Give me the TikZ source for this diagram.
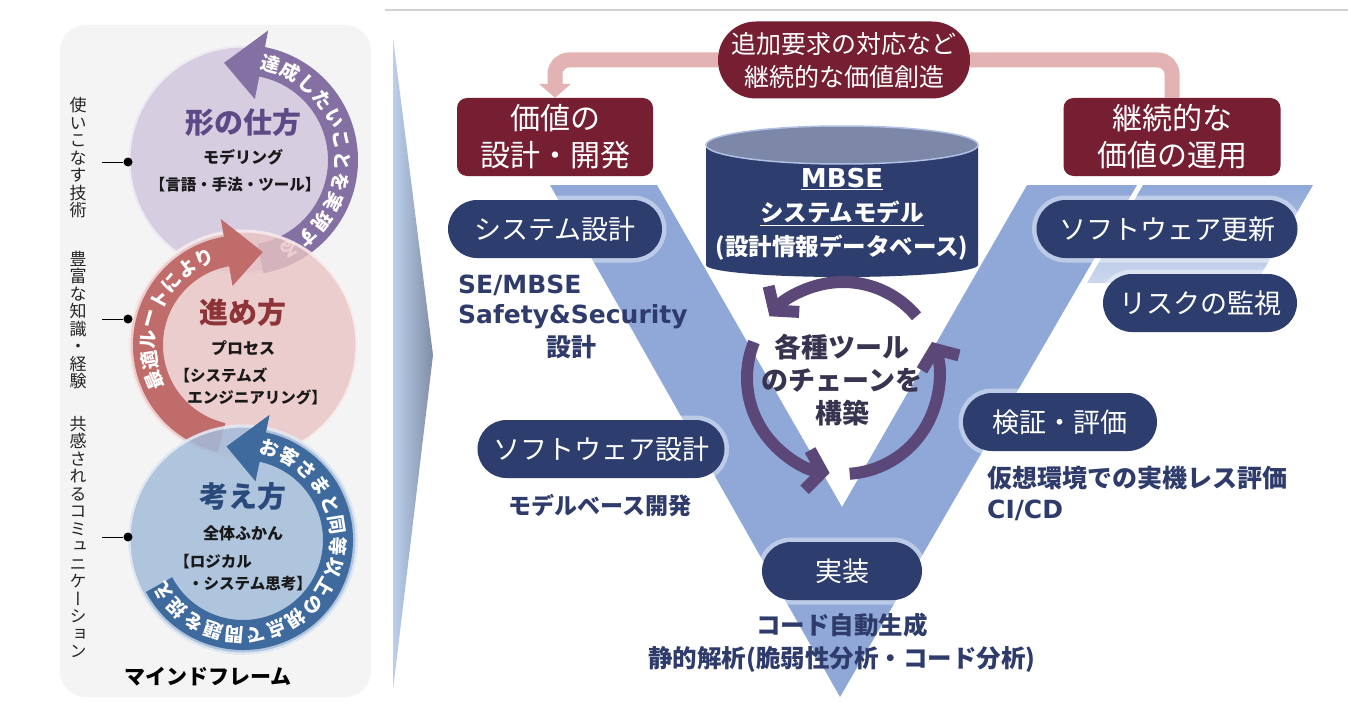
\documentclass[tikz,border=0pt]{standalone}
\usepackage{fontspec}
\setmainfont{Noto Sans CJK JP}
\newfontfamily\dvs{DejaVu Sans}
\newfontfamily\jpv[RawFeature=+vert]{Noto Sans CJK JP}
\usetikzlibrary{calc,arrows.meta}
\newcommand\fsz[2]{\fontsize{#1pt}{#2pt}\selectfont}
\lineskiplimit=-20pt
\definecolor{navy}{HTML}{2D3E6E}
\definecolor{maroon}{HTML}{761F33}
\definecolor{vblue}{HTML}{8FA8D8}
\definecolor{vlight}{HTML}{AFC0E4}
\definecolor{pinkarr}{HTML}{E3B3B3}
\definecolor{cylTop}{HTML}{7D87A7}
\definecolor{arrP}{HTML}{5B4878}
\definecolor{txtNavy}{HTML}{2F3C6B}
\definecolor{ctrTxt}{HTML}{37344F}
\definecolor{panel}{HTML}{F4F4F4}
\definecolor{chevL}{HTML}{BCD0EC}
\definecolor{chevR}{HTML}{7F8EA6}
\definecolor{c1fill}{HTML}{D6CDE1}
\definecolor{c1band}{HTML}{8470A3}
\definecolor{c1title}{HTML}{5C4A86}
\definecolor{c2fill}{HTML}{EAC4C4}
\definecolor{c2band}{HTML}{C06C6A}
\definecolor{c2title}{HTML}{8C3437}
\definecolor{c3fill}{HTML}{A4BCDA}
\definecolor{c3band}{HTML}{3F6A9E}
\definecolor{c3title}{HTML}{2A4A7C}
\begin{document}
\begin{tikzpicture}[x=1pt,y=1pt,yscale=-1,
  navybox/.style={fill=navy, text=white, rounded corners=29pt, minimum height=58pt, inner sep=0pt,
    font=\fsz{27}{32}, preaction={draw=white, line width=9pt, opacity=0.4}},
  maroonbox/.style={fill=maroon, text=white, rounded corners=10pt, minimum height=78pt, inner sep=0pt,
    align=center, font=\fsz{30}{37}},
  lbl/.style={text=txtNavy, font=\bfseries\fsz{25}{32}, inner sep=0pt},
  ringtxt/.style={text=white, font=\bfseries\fsz{19}{19}, inner sep=0pt},
  vtxt/.style={font=\jpv\fsz{17}{17.5}, align=center, inner sep=0pt, text=black!85},
  dotnode/.style={circle, fill=black, inner sep=0pt, minimum size=9pt},
  ctitle/.style={font=\bfseries\fsz{29}{30}, inner sep=0pt},
  csub/.style={font=\bfseries\fsz{16}{18}, inner sep=0pt, text=black!90},
  cyc/.style={arrP, line width=12pt, -{Straight Barb[length=15pt,width=40pt]}}
]
\useasboundingbox (0,0) rectangle (1348,706);
\fill[white] (0,0) rectangle (1348,706);

% top rule
\draw[black!18, line width=1.5pt] (385,10) -- (1348,10);

% left panel
\fill[panel, rounded corners=26pt] (60,25) rectangle (371,697);

% chevron
\shade[left color=chevL, right color=chevR] (393,38) -- (433,355) -- (393,690) -- cycle;

% V shape
\fill[vblue] (550,185) -- (657,185) -- (842,507) -- (1027,185) -- (1137,185) -- (840,697) -- cycle;
\shade[top color=vblue, bottom color=vblue!45] (1143,185) -- (1313,185) -- (1256,283) -- (1087,283) -- cycle;

% ---------- left mind frame ----------
\coordinate (C1) at (243,160);
\coordinate (C2) at (243,345);
\coordinate (C3) at (243,540);

% top circle
\fill[c1fill] (C1) circle[radius=115];
\draw[white, opacity=0.6, line width=3pt] (C1) circle[radius=114];
\draw[c1band, line width=30pt] ($(C1)+(80:100)$) arc[start angle=80, end angle=-79.5, radius=100pt];
\fill[c1band] ($(C1)+(-79:62)$) -- ($(C1)+(-79:132)$) -- ($(C1)+(-101:99)$) -- cycle;
\foreach \ch [count=\i from 0] in {達,成,し,た,い,こ,と,を,実,現,す,る} {
  \pgfmathsetmacro\ang{-74+\i*12.4}
  \pgfmathsetmacro\rot{-(\ang)-90}
  \node[ringtxt, rotate=\rot] at ($(C1)+(\ang:100)$) {\ch};
}
\node[ctitle, text=c1title] (t1) at (243,123) {形の仕方};
\node[csub] (t1a) at (243,157) {モデリング};
\node[csub, font=\bfseries\fsz{15.5}{18}] (t1b) at (235,185) {【言語・手法・ツール】};

% middle circle
\fill[c2fill, opacity=0.8] (C2) circle[radius=115];
\draw[white, opacity=0.6, line width=3pt] (C2) circle[radius=114];
\draw[c2band, line width=30pt] ($(C2)+(103:95)$) arc[start angle=103, end angle=260.5, radius=95pt];
\fill[c2band] ($(C2)+(260:60)$) -- ($(C2)+(260:128)$) -- ($(C2)+(282:95)$) -- cycle;
\foreach \ch [count=\i from 0] in {最,適,ル,ー,ト,に,よ,り} {
  \pgfmathsetmacro\ang{158+\i*12.6}
  \pgfmathsetmacro\rot{-(\ang)-90}
  \node[ringtxt, rotate=\rot] at ($(C2)+(\ang:95)$) {\ch};
}
\node[ctitle, text=c2title] (t2) at (243,313) {進め方};
\node[csub] (t2a) at (243,348) {プロセス};
\node[csub, font=\bfseries\fsz{15.5}{18}] (t2b) at (221,375) {【システムズ};
\node[csub, font=\bfseries\fsz{15.5}{18}] (t2c) at (257,397) {エンジニアリング】};

% bottom circle
\fill[c3fill, opacity=0.85] (C3) circle[radius=115];
\draw[white, opacity=0.6, line width=3pt] (C3) circle[radius=114];
\draw[c3band, line width=30pt] ($(C3)+(152:95)$) arc[start angle=152, end angle=-78.5, radius=95pt];
\fill[c3band] ($(C3)+(-78:60)$) -- ($(C3)+(-78:128)$) -- ($(C3)+(-100:95)$) -- cycle;
\foreach \ch [count=\i from 0] in {お,客,さ,ま,と,同,等,以,上,の,視,点,で,問,題,を,捉,え} {
  \pgfmathsetmacro\ang{-74+\i*13}
  \pgfmathsetmacro\rot{-(\ang)-90}
  \node[ringtxt, rotate=\rot] at ($(C3)+(\ang:95)$) {\ch};
}
\node[ctitle, text=c3title] (t3) at (243,497) {考え方};
\node[csub] (t3a) at (243,533) {全体ふかん};
\node[csub, font=\bfseries\fsz{15.5}{18}] (t3b) at (213,562) {【ロジカル};
\node[csub, font=\bfseries\fsz{15.5}{18}] (t3c) at (250,584) {・システム思考】};

\node[font=\bfseries\fsz{21}{24}, inner sep=0pt] (mf) at (208,677) {マインドフレーム};

% vertical texts with leaders
\node[vtxt] (v1) at (78,158) {使\\い\\こ\\な\\す\\技\\術};
\node[vtxt] (v2) at (78,320) {豊\\富\\な\\知\\識\\・\\経\\験};
\node[vtxt] (v3) at (78,537) {共\\感\\さ\\れ\\る\\コ\\ミ\\ュ\\ニ\\ケ\\ー\\シ\\ョ\\ン};
\node[dotnode] (d1) at (128,162) {};
\node[dotnode] (d2) at (128,319) {};
\node[dotnode] (d3) at (128,537) {};
\coordinate (e1) at (102,162);
\coordinate (e2) at (102,319);
\coordinate (e3) at (102,537);
\draw[line width=1pt] (e1) -- (d1);
\draw[line width=1pt] (e2) -- (d2);
\draw[line width=1pt] (e3) -- (d3);

% ---------- right V diagram ----------
% cylinder
\fill[navy] (706,145) -- (706,265) arc[start angle=180, end angle=0, x radius=136pt, y radius=12pt] -- (978,145) -- cycle;
\filldraw[fill=cylTop, draw=vlight, line width=1.5pt] (842,145) ellipse[x radius=136pt, y radius=19pt];
\node[text=white, align=center, font=\bfseries\fsz{23.5}{34}, inner sep=0pt] (cyl) at (842,214)
  {{\dvs\bfseries\fsz{26}{34}\underline{MBSE}}\\\underline{システムモデル}\\(設計情報データベース)};

% top pill and maroon boxes
\node[fill=maroon, text=white, rounded corners=38pt, minimum width=252pt, minimum height=77pt,
  align=center, font=\fsz{25}{33}, inner sep=0pt] (pill) at (844,60) {追加要求の対応など\\継続的な価値創造};
\node[maroonbox, minimum width=196pt] (val) at (555,137) {価値の\\設計・開発};
\node[maroonbox, minimum width=217pt] (opr) at (1172,137) {継続的な\\価値の運用};
\draw[pinkarr, line width=15pt, rounded corners=14pt] (pill.west) -| ($(val.north)+(0,-13)$);
\fill[pinkarr] ($(val.north)+(-16,-14)$) -- ($(val.north)+(16,-14)$) -- (val.north) -- cycle;
\draw[pinkarr, line width=15pt, rounded corners=14pt] (pill.east) -| (opr.north);

% navy nodes
\node[navybox, minimum width=214pt] (sysd) at (555,229) {システム設計};
\node[navybox, minimum width=247pt] (swd) at (601,449) {ソフトウェア設計};
\node[navybox, minimum width=160pt] (impl) at (842,571) {実装};
\node[navybox, minimum width=194pt] (veri) at (1060,422) {検証・評価};
\node[navybox, minimum width=261pt] (swu) at (1167,229) {ソフトウェア更新};
\node[navybox, minimum width=194pt] (risk) at (1200,303) {リスクの監視};

% labels
\node[lbl, anchor=west, font=\dvs\bfseries\fsz{25}{30}] (l1) at (458,285) {SE/MBSE};
\node[lbl, anchor=west, font=\dvs\bfseries\fsz{25}{30}] (l2) at (458,317) {Safety\&Security};
\node[lbl] (l3) at (571,347) {設計};
\node[lbl, font=\bfseries\fsz{23}{30}] (l4) at (600,506) {モデルベース開発};
\node[lbl, anchor=west] (l5) at (987,478) {仮想環境での実機レス評価};
\node[lbl, anchor=west, font=\dvs\bfseries\fsz{25}{30}] (l6) at (987,510) {CI/CD};
\node[lbl, font=\bfseries\fsz{24.5}{33}, align=center] (l7) at (842,643) {コード自動生成\\静的解析(脆弱性分析・コード分析)};

% central cycle
\coordinate (C0) at (843,378);
\draw[cyc] ($(C0)+(-40:96)$) arc[start angle=-40, end angle=-140, radius=96pt];
\draw[cyc] ($(C0)+(-158:96)$) arc[start angle=-158, end angle=-262, radius=96pt];
\draw[cyc] ($(C0)+(86:96)$) arc[start angle=86, end angle=-22, radius=96pt];
\node[font=\bfseries\fsz{27}{33}, text=ctrTxt, align=center, inner sep=0pt] (ctr) at (842,380) {各種ツール\\のチェーンを\\構築};
\end{tikzpicture}
\end{document}
